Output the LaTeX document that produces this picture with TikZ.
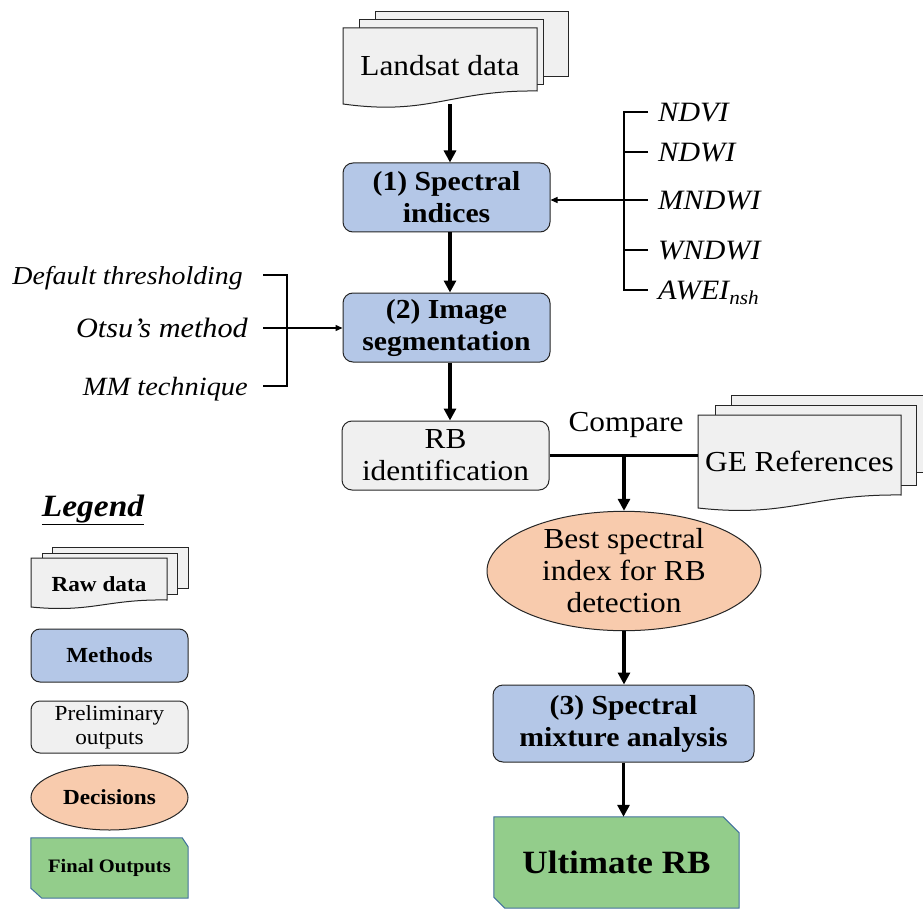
\documentclass[tikz,border=0pt]{standalone}
\usepackage{fontspec}
\setmainfont{Liberation Serif}[FakeStretch=1.08]
\usetikzlibrary{arrows.meta,shapes.geometric}
\definecolor{mblue}{HTML}{B4C7E7}
\definecolor{mgray}{HTML}{F0F0F0}
\definecolor{mpeach}{HTML}{F8CBAD}
\definecolor{mgreen}{HTML}{93CD8B}
\definecolor{mborder}{HTML}{41719C}
\newcommand\mainsize{\fontsize{29}{32}\selectfont}
\newcommand\boldsize{\fontsize{27.5}{32}\selectfont\bfseries}
\newcommand\legsize{\fontsize{21.5}{24}\selectfont}
% L R T Bl Br dip
\newcommand\frontsheet[6]{%
  \filldraw[sheet] (#1,#3) -- (#2,#3) -- (#2,#5) .. controls ({#2-0.45*(#2-#1)},{#5-1}) and ({#1+0.45*(#2-#1)},{#4+#6}) .. (#1,#4) -- cycle;}
\begin{document}
\begin{tikzpicture}[x=1pt,y=-1pt,
  sheet/.style={fill=mgray,draw=black!85,line width=1pt},
  box/.style={draw=black!85,line width=1pt,rounded corners=10pt,align=center,inner sep=0pt},
  methodbox/.style={box,fill=mblue,font=\boldsize},
  prelimbox/.style={box,fill=mgray,font=\mainsize},
  decision/.style={ellipse,draw=black!85,line width=1pt,fill=mpeach,align=center,inner sep=0pt,font=\mainsize},
  plain/.style={inner sep=0pt,align=center},
  idx/.style={font=\fontsize{28}{32}\selectfont\itshape,inner xsep=10pt,inner ysep=0pt,text height=19pt,text depth=0pt,anchor=west},
  lft/.style={inner xsep=15pt,inner ysep=0pt,text height=19pt,text depth=0pt,anchor=east},
  bigarrow/.style={line width=3.5pt,-{Triangle[length=12pt,width=12pt]}},
  thinarrow/.style={line width=1.3pt,-{Triangle[length=7pt,width=6pt]}},
  bracket/.style={line width=1.5pt},
  joinline/.style={line width=3.5pt},
  finalshape/.style={fill=mgreen,draw=mborder,line width=1pt},
  legbox/.style={draw=black!85,line width=1pt,rounded corners=9pt,align=center,inner sep=0pt}
]
\clip (0,0) rectangle (923,909);

% ---------- Landsat data ----------
\filldraw[sheet] (375,12) rectangle (568,77);
\filldraw[sheet] (359,20) rectangle (543,85);
\frontsheet{343}{537}{28}{104}{91}{12}
\node[plain,font=\mainsize,minimum width=194pt,minimum height=76pt] (landsat) at (440,66) {Landsat data};

% ---------- main boxes ----------
\node[methodbox,minimum width=207pt,minimum height=69pt] (s1) at (446.5,197.5) {(1) Spectral\\indices};
\node[methodbox,minimum width=207pt,minimum height=69pt] (s2) at (446.5,327.5) {(2) Image\\segmentation};
\node[prelimbox,minimum width=207pt,minimum height=69pt] (rb) at (445.5,455.5) {RB\\identification};

\draw[bigarrow] ([xshift=3.5pt]s1.north |- landsat.south) -- ([xshift=3.5pt]s1.north);
\draw[bigarrow] ([xshift=3.5pt]s1.south) -- ([xshift=3.5pt]s2.north);
\draw[bigarrow] ([xshift=3.5pt]s2.south) -- ([xshift=4.5pt]rb.north);

% ---------- spectral indices list ----------
\coordinate (bk) at (624,200);
\node[idx] (ndvi) at (648,112) {NDVI};
\node[idx] (ndwi) at (648,152) {NDWI};
\node[idx] (mndwi) at (648,200) {MNDWI};
\node[idx] (wndwi) at (648,250) {WNDWI};
\node[idx] (awei) at (648,290) {AWEI\textsubscript{nsh}};
\draw[bracket] (ndvi.west) -- (ndvi.west -| bk) -- (awei.west -| bk) -- (awei.west);
\draw[bracket] (ndwi.west) -- (ndwi.west -| bk);
\draw[bracket] (wndwi.west) -- (wndwi.west -| bk);
\draw[thinarrow] (mndwi.west) -- (mndwi.west -| s1.east);

% ---------- thresholding list ----------
\coordinate (lb) at (287,328);
\node[lft,inner xsep=20pt,font=\fontsize{25.8}{30}\selectfont\itshape] (dft) at (263,275) {Default thresholding};
\node[lft,font=\fontsize{28}{32}\selectfont\itshape] (otsu) at (263,328) {Otsu's method};
\node[lft,font=\fontsize{26.3}{30}\selectfont\itshape] (mm) at (263,386) {MM technique};
\draw[bracket] (dft.east) -- (dft.east -| lb) -- (mm.east -| lb) -- (mm.east);
\draw[thinarrow] (otsu.east) -- (otsu.east -| s2.west);

% ---------- GE references ----------
\filldraw[sheet] (731,395) rectangle (945,472);
\filldraw[sheet] (715,405) rectangle (916,485);
\frontsheet{698}{901}{415}{508}{495}{10}
\node[plain,font=\mainsize,minimum width=203pt,minimum height=93pt] (ge) at (799.5,461.5) {GE References};

\node[plain,font=\mainsize] (cmp) at (626,425) {Compare};

% ---------- decision ----------
\node[decision,minimum width=274pt,minimum height=112pt] (dec) at (624,571) {Best spectral\\index for RB\\detection};
\draw[joinline] (rb.east) -- (rb.east -| ge.west);
\draw[bigarrow] (rb.east -| dec.north) -- (dec.north);

% ---------- SMA ----------
\node[methodbox,minimum width=261pt,minimum height=77pt] (s3) at (623.5,723.5) {(3) Spectral\\mixture analysis};
\draw[bigarrow] (dec.south) -- (dec.south |- s3.north);

% ---------- Ultimate RB ----------
\node[plain,minimum width=245pt,minimum height=91pt] (ult) at (616.5,862.5) {};
\filldraw[finalshape] (ult.north west) -- ([xshift=-16pt]ult.north east) -- ([yshift=-16pt]ult.north east) -- (ult.south east) -- ([xshift=11pt]ult.south west) -- ([yshift=11pt]ult.south west) -- cycle;
\node[plain,font=\fontsize{32.5}{38}\selectfont\bfseries] at (ult.center) {Ultimate RB};
\draw[bigarrow] (s3.south) -- (s3.south |- ult.north);

% ---------- Legend ----------
\node[plain,font=\fontsize{31}{36}\selectfont\bfseries\itshape] (legend) at (93,510) {\underline{Legend}};

\filldraw[sheet] (52,547) rectangle (188,588);
\filldraw[sheet] (42,553) rectangle (177,594);
\frontsheet{31}{167}{558}{607}{600}{6}
\node[plain,font=\legsize\bfseries] (raw) at (99,584) {Raw data};

\node[legbox,fill=mblue,font=\legsize\bfseries,minimum width=157pt,minimum height=53pt] (meth) at (109.5,655.5) {Methods};
\node[legbox,fill=mgray,font=\legsize,minimum width=157pt,minimum height=52pt] (prel) at (109.5,727) {Preliminary\\outputs};
\node[ellipse,draw=black!85,line width=1pt,fill=mpeach,inner sep=0pt,font=\legsize\bfseries,minimum width=157pt,minimum height=65pt] (decl) at (109.5,797.5) {Decisions};
\path (109.5,868) node[plain,minimum width=157pt,minimum height=60pt] (finl) {};
\filldraw[finalshape] (finl.north west) -- ([xshift=-6pt]finl.north east) -- ([yshift=-9pt]finl.north east) -- (finl.south east) -- ([xshift=11pt]finl.south west) -- ([yshift=10pt]finl.south west) -- cycle;
\node[plain,font=\fontsize{19}{22}\selectfont\bfseries] at (finl.center) {Final Outputs};
\end{tikzpicture}
\end{document}
